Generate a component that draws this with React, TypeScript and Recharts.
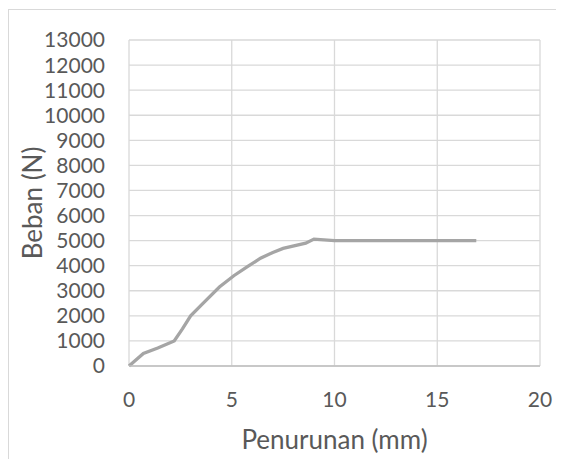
import React from 'react';
import { LineChart, Line, XAxis, YAxis, CartesianGrid, Label } from 'recharts';

// Penurunan (mm) vs Beban (N)
const penurunan = [0, 0.7, 1.4, 2.2, 2.6, 3.0, 3.6, 4.4, 5.1, 5.8, 6.4, 7.0, 7.5, 8.6, 9.0, 10, 11, 12, 13, 14, 15, 16, 16.9];
const beban = [0, 500, 720, 1000, 1480, 2000, 2500, 3150, 3600, 3980, 4300, 4530, 4690, 4900, 5060, 5000, 5000, 5000, 5000, 5000, 5000, 5000, 5000];

const xTicks = [0, 5, 10, 15, 20];
const yTicks = [0, 1000, 2000, 3000, 4000, 5000, 6000, 7000, 8000, 9000, 10000, 11000, 12000, 13000];

const data = penurunan.map((x, i) => ({ x, y: beban[i] }));

const FONT = 'Lato, "Liberation Sans", sans-serif';
const TEXT = '#595959';

export default function App() {
  return (
    <div style={{ position: 'relative', width: 556, height: 451 }}>
      {/* faint frame lines like the source screenshot */}
      <div style={{ position: 'absolute', left: -6, top: -8, width: 1, height: 459, background: '#e0e0e0' }} />
      <div
        style={{
          position: 'absolute',
          left: 0,
          top: 1,
          width: 556,
          height: 450,
          borderTop: '1px solid #d9d9d9',
          borderLeft: '1px solid #d9d9d9',
          boxSizing: 'border-box',
        }}
      />
      <LineChart
        width={556}
        height={451}
        data={data}
        margin={{ top: 32, right: 24, left: 0, bottom: 8 }}
        style={{ position: 'absolute', left: 0, top: 0, fontFamily: FONT }}
      >
        <CartesianGrid stroke="#d9d9d9" strokeWidth={1.3} />
        <XAxis
          dataKey="x"
          type="number"
          domain={[0, 20]}
          ticks={xTicks}
          interval={0}
          height={85}
          tickLine={false}
          tickMargin={20}
          axisLine={{ stroke: '#bfbfbf', strokeWidth: 1.3 }}
          tick={{ fill: TEXT, fontSize: 21 }}
        >
          <Label
            content={({ viewBox }: any) => (
              <text
                x={viewBox.x + viewBox.width / 2}
                y={viewBox.y + 83}
                textAnchor="middle"
                fill={TEXT}
                fontSize={26}
              >
                Penurunan (mm)
              </text>
            )}
          />
        </XAxis>
        <YAxis
          type="number"
          domain={[0, 13000]}
          ticks={yTicks}
          interval={0}
          width={121}
          tickLine={false}
          axisLine={false}
          tickMargin={18}
          tick={{ fill: TEXT, fontSize: 21 }}
        >
          <Label
            content={({ viewBox }: any) => {
              const cx = viewBox.x + 24;
              const cy = viewBox.y + viewBox.height / 2;
              return (
                <text
                  x={cx}
                  y={cy}
                  transform={`rotate(-90 ${cx} ${cy})`}
                  textAnchor="middle"
                  dominantBaseline="central"
                  fill={TEXT}
                  fontSize={26}
                >
                  Beban (N)
                </text>
              );
            }}
          />
        </YAxis>
        <Line
          type="linear"
          dataKey="y"
          stroke="#a5a5a5"
          strokeWidth={3.3}
          dot={false}
          isAnimationActive={false}
        />
      </LineChart>
    </div>
  );
}
